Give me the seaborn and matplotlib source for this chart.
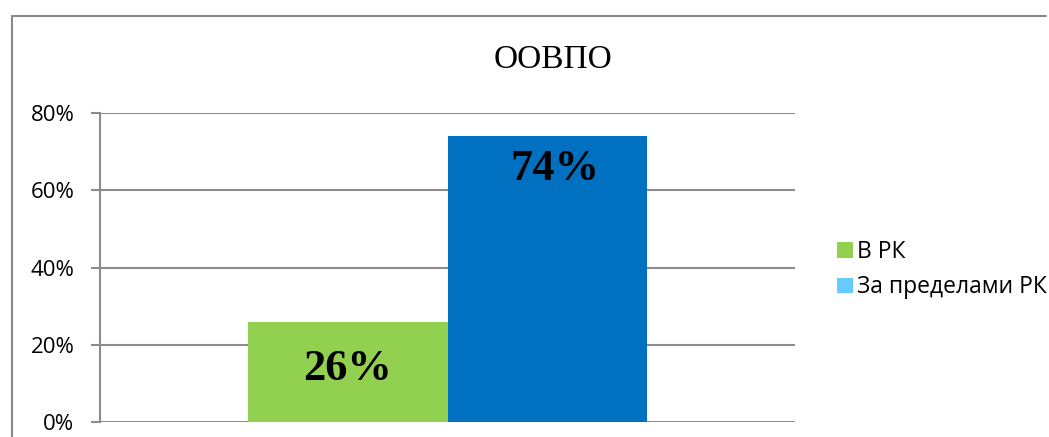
import matplotlib
matplotlib.use("Agg")
import matplotlib.pyplot as plt
import seaborn as sns
import pandas as pd
from matplotlib.patches import Patch
from matplotlib.lines import Line2D
from matplotlib.ticker import PercentFormatter

# data
title = "ООВПО"
places = ["В РК", "За пределами РК"]
shares = [0.26, 0.74]
bar_colors = ["#92D050", "#0070C0"]
legend_colors = ["#92D050", "#66CCFF"]
y_ticks = [0, 0.2, 0.4, 0.6, 0.8]

df = pd.DataFrame({"group": [title] * len(places), "place": places, "share": shares})

sns.set_style("white")
plt.rcParams["font.family"] = ["Open Sans", "DejaVu Sans"]
plt.rcParams["text.color"] = "black"
grid_col = "#8C8C8C"

fig = plt.figure(figsize=(10.49, 4.37), dpi=100)
ax = fig.add_axes([100 / 1049, 1 - 422 / 437, 695 / 1049, 309 / 437])

sns.barplot(data=df, x="group", y="share", hue="place", palette=bar_colors,
            width=0.573, saturation=1, linewidth=0, legend=False, ax=ax, zorder=3)

ax.set_ylim(0, 0.8)
ax.set_xlim(-0.5, 0.5)
ax.set_yticks(y_ticks)
ax.yaxis.set_major_formatter(PercentFormatter(1.0, decimals=0))
ax.set_xticks([])
ax.set_xlabel("")
ax.set_ylabel("")
ax.grid(axis="y", color=grid_col, linewidth=1.5, zorder=0)
for s in ["top", "right", "bottom"]:
    ax.spines[s].set_visible(False)
ax.spines["left"].set_color(grid_col)
ax.spines["left"].set_linewidth(1.5)
ax.tick_params(axis="y", left=True, length=6.5, width=1.5, color=grid_col,
               pad=12, labelsize=16, labelcolor="black")

# value labels
label_font = dict(family=["Liberation Serif", "DejaVu Serif"], weight="bold", fontsize=32, color="black")
for i, cont in enumerate(ax.containers):
    for bar, val in zip(cont, shares[i:i + 1]):
        cx = bar.get_x() + bar.get_width() / 2
        h = bar.get_height()
        if i == 0:
            ax.annotate(f"{val:.0%}", (cx, h / 2), xytext=(0, 3), textcoords="offset pixels",
                        ha="center", va="center", zorder=5, **label_font)
        else:
            ax.annotate(f"{val:.0%}", (cx, h), xytext=(8, -33), textcoords="offset pixels",
                        ha="center", va="center", zorder=5, **label_font)

# legend
handles = [Patch(facecolor=c, edgecolor="none") for c in legend_colors]
fig.legend(handles, places, loc="upper left", bbox_to_anchor=(837 / 1049, 1 - 240 / 437),
           frameon=False, fontsize=16.5, handlelength=0.68, handleheight=0.68,
           handletextpad=0.2, labelspacing=0.5, borderaxespad=0, borderpad=0,
           labelcolor="black")

fig.text(553 / 1049, 1 - 68 / 437, title, family=["Liberation Serif", "DejaVu Serif"],
         fontsize=24, color="black", ha="center", va="baseline")

# outer chart frame (left and top edges)
fig.add_artist(Line2D([12 / 1049, 12 / 1049], [0, 1 - 15.5 / 437], transform=fig.transFigure,
                      color="#898989", linewidth=1.5))
fig.add_artist(Line2D([12 / 1049, 1046 / 1049], [1 - 15.5 / 437, 1 - 15.5 / 437],
                      transform=fig.transFigure, color="#898989", linewidth=1.5))

fig.savefig("out.png", dpi=100, facecolor="white")
